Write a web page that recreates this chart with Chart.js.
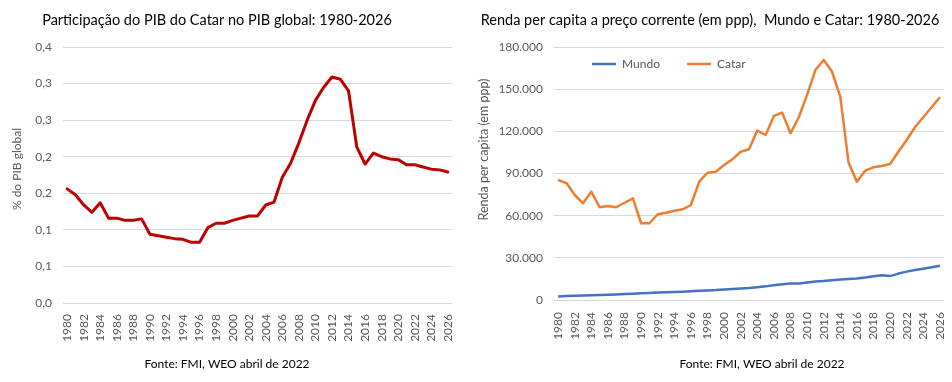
<!DOCTYPE html>
<html>
<head>
<meta charset="utf-8">
<script src="https://cdn.jsdelivr.net/npm/chart.js@4.4.1/dist/chart.umd.min.js"></script>
<style>
  html, body { margin: 0; padding: 0; background: #ffffff; }
  #wrap { position: relative; width: 952px; height: 382px; overflow: hidden; }
  .box { position: absolute; top: 0; width: 476px; height: 382px; }
  #b1 { left: 0; }
  #b2 { left: 476px; }
  canvas { display: block; }
</style>
</head>
<body>
<div id="wrap">
  <div class="box" id="b1"><canvas id="c1" width="476" height="382"></canvas></div>
  <div class="box" id="b2"><canvas id="c2" width="476" height="382"></canvas></div>
</div>
<script>
// ---------------- DATA ----------------
const years = ['1980','1981','1982','1983','1984','1985','1986','1987','1988','1989',
  '1990','1991','1992','1993','1994','1995','1996','1997','1998','1999',
  '2000','2001','2002','2003','2004','2005','2006','2007','2008','2009',
  '2010','2011','2012','2013','2014','2015','2016','2017','2018','2019',
  '2020','2021','2022','2023','2024','2025','2026'];

// % do PIB global (Catar)
const shareQatar = [0.156,0.148,0.134,0.124,0.137,0.116,0.116,0.113,0.113,0.115,
  0.094,0.092,0.090,0.088,0.087,0.083,0.083,0.103,0.109,0.109,
  0.113,0.116,0.119,0.119,0.134,0.138,0.172,0.191,0.219,0.250,
  0.277,0.295,0.309,0.306,0.290,0.213,0.190,0.205,0.200,0.197,
  0.196,0.189,0.189,0.186,0.183,0.182,0.179];

// Renda per capita (ppp)
const incomeWorld = [2500,2800,3000,3150,3350,3550,3750,3950,4200,4500,
  4800,5000,5250,5450,5700,5950,6250,6550,6750,7050,
  7500,7800,8100,8500,9100,9700,10500,11200,11700,11700,
  12400,13100,13600,14100,14600,14900,15300,16000,16900,17600,
  17000,18800,20200,21300,22300,23300,24300];
const incomeQatar = [85400,83200,74700,68800,77100,66000,66900,66000,69200,72300,
  54600,54600,61000,62100,63500,64500,67600,84200,90600,91300,
  96000,100100,105500,107200,120500,117400,130900,133300,118600,130000,
  145900,163600,170800,162500,144700,97700,84200,92000,94400,95300,
  96800,105500,113800,122900,130000,137100,144200];

const leftTickLabels = ['0,0','0,1','0,1','0,2','0,2','0,3','0,3','0,4'];
const rightTickLabels = ['0','30.000','60.000','90.000','120.000','150.000','180.000'];

const seriesNames = ['Mundo', 'Catar'];
const titleLeft = 'Participação do PIB do Catar no PIB global: 1980-2026';
const titleRight = 'Renda per capita a preço corrente (em ppp),  Mundo e Catar: 1980-2026';
const sourceText = 'Fonte: FMI, WEO abril de 2022';

// ---------------- STYLE ----------------
Chart.defaults.font.family = 'Lato, "Open Sans", sans-serif';
Chart.defaults.font.size = 12;
Chart.defaults.color = '#595959';

const GRID = '#D9D9D9';
const TICK = '#595959';

// positions title/footer/legend/axis-title boxes as in the reference
const placer = {
  id: 'placer',
  afterLayout(chart, args, o) {
    const recenter = (b, cx) => {
      const w = b.right - b.left;
      b.left = cx - w / 2; b.right = cx + w / 2;
    };
    if (o.titleX != null && chart.titleBlock) recenter(chart.titleBlock, o.titleX);
    if (o.footerX != null) {
      const f = chart.boxes.find(b => b !== chart.titleBlock && b.options &&
        b.options.position === 'bottom' && typeof b.options.text === 'string');
      if (f) recenter(f, o.footerX);
    }
    const s = chart.scales.y;
    if (s && !s.__wrapped) {
      const dy = o.yTitleShift || 0;
      const orig = s.drawTitle;
      s.drawTitle = function () {
        const t = this.top, b = this.bottom;
        this.top = t + dy; this.bottom = b + dy;
        orig.call(this);
        this.top = t; this.bottom = b;
      };
      s.__wrapped = true;
    }
    if (o.legendAt && chart.legend && chart.legend.options.display) {
      const L = chart.legend;
      const pad = L.options.labels.padding;
      const nx = o.legendAt.x - pad;
      const ny = o.legendAt.y - 6 - pad;
      const dx = nx - L.left, dyy = ny - L.top;
      L.left += dx; L.right += dx; L.top += dyy; L.bottom += dyy;
    }
  }
};

function xAxis(height, pad) {
  return {
    type: 'category',
    offset: true,
    grid: { display: false, drawTicks: false },
    border: { display: false },
    ticks: {
      autoSkip: false,
      minRotation: 90,
      maxRotation: 90,
      padding: pad,
      color: TICK,
      font: { size: 12 },
      callback: (v, i) => (i % 2 === 0 ? years[i] : '')
    },
    afterFit: (sc) => { sc.height = height; sc.paddingLeft = 0; sc.paddingRight = 0; }
  };
}

// ---------------- LEFT CHART ----------------
new Chart(document.getElementById('c1'), {
  type: 'line',
  data: {
    labels: years,
    datasets: [{
      label: '% do PIB global',
      data: shareQatar,
      borderColor: '#BE0000',
      backgroundColor: '#BE0000',
      borderWidth: 3,
      pointRadius: 0,
      tension: 0,
      borderJoinStyle: 'round',
      borderCapStyle: 'round',
      fill: false
    }]
  },
  options: {
    responsive: false,
    animation: false,
    devicePixelRatio: 1,
    layout: { padding: { left: 0, right: 24, top: 0, bottom: 0 } },
    plugins: {
      legend: { display: false },
      tooltip: { enabled: false },
      title: {
        display: true, text: titleLeft, color: '#000000',
        font: { size: 14.5, weight: 'normal' },
        padding: { top: 11.6, bottom: 18 }
      },
      subtitle: {
        display: true, position: 'bottom', text: sourceText, color: '#000000',
        font: { size: 12, weight: 'normal' },
        padding: { top: 7, bottom: 11 }
      },
      placer: { titleX: 217, footerX: 227, yTitleShift: -6 }
    },
    scales: {
      x: xAxis(46.6, 11),
      y: {
        min: 0, max: 0.35,
        ticks: {
          stepSize: 0.05, padding: 11, color: TICK, font: { size: 12 },
          callback: (v, i) => leftTickLabels[i]
        },
        grid: { color: GRID, lineWidth: 1, drawTicks: false },
        border: { display: false },
        title: {
          display: true, text: '% do PIB global', color: TICK,
          font: { size: 12 }, padding: { top: 10, bottom: 0 }
        },
        afterFit: (sc) => { sc.width = 63; }
      }
    }
  },
  plugins: [placer]
});

// ---------------- RIGHT CHART ----------------
const mctx = document.createElement('canvas').getContext('2d');
mctx.font = '12px Lato';
const legendGap = Math.max(4, 211 - 116 - 24 - 6 - mctx.measureText(seriesNames[0]).width);

const ch2 = new Chart(document.getElementById('c2'), {
  type: 'line',
  data: {
    labels: years,
    datasets: [{
      label: seriesNames[0],
      data: incomeWorld,
      borderColor: '#4472C4',
      backgroundColor: '#4472C4',
      borderWidth: 2.5,
      pointRadius: 0,
      tension: 0,
      borderJoinStyle: 'round',
      fill: false
    }, {
      label: seriesNames[1],
      data: incomeQatar,
      borderColor: '#ED7D31',
      backgroundColor: '#ED7D31',
      borderWidth: 2.5,
      pointRadius: 0,
      tension: 0,
      borderJoinStyle: 'round',
      fill: false
    }]
  },
  options: {
    responsive: false,
    animation: false,
    devicePixelRatio: 1,
    layout: { padding: { left: 0, right: 8, top: 0, bottom: 0 } },
    plugins: {
      legend: {
        display: true, position: 'top', align: 'start', weight: 3000,
        labels: {
          usePointStyle: true, pointStyle: 'line', pointStyleWidth: 24,
          color: TICK, font: { size: 12 }, padding: legendGap
        }
      },
      tooltip: { enabled: false },
      title: {
        display: true, text: titleRight, color: '#000000',
        font: { size: 14.5, weight: 'normal' },
        padding: { top: 11.6, bottom: 18 }
      },
      subtitle: {
        display: true, position: 'bottom', text: sourceText, color: '#000000',
        font: { size: 12, weight: 'normal' },
        padding: { top: 7, bottom: 11 }
      },
      placer: { titleX: 234, footerX: 286, yTitleShift: -24, legendAt: { x: 116, y: 64 } }
    },
    scales: {
      x: xAxis(49.6, 12),
      y: {
        min: 0, max: 180000,
        ticks: {
          stepSize: 30000, padding: 11, color: TICK, font: { size: 12 },
          callback: (v, i) => rightTickLabels[i]
        },
        grid: { color: GRID, lineWidth: 1, drawTicks: false },
        border: { display: false },
        title: {
          display: true, text: 'Renda per capita (em ppp)', color: TICK,
          font: { size: 12.5 }, padding: { top: 0, bottom: 0 }
        },
        afterFit: (sc) => { sc.width = 78; }
      }
    }
  },
  plugins: [placer]
});
// keep the legend from taking vertical space (it is drawn inside the plot)
ch2.config.options.layout.padding.top = -ch2.legend.height;
ch2.update('none');
</script>
</body>
</html>
